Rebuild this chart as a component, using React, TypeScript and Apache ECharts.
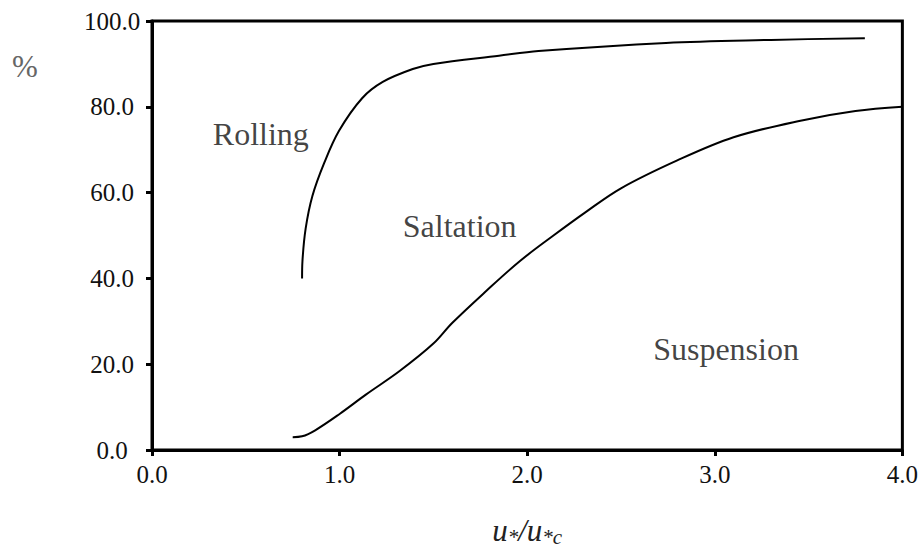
import React, { useEffect, useRef } from "react";
import * as echarts from "echarts";

const upperCurve: [number, number][] = [
  [0.8, 40], [0.802, 44], [0.819, 51.6], [0.855, 59.2], [0.917, 66.8], [0.997, 74.4],
  [1.12, 82], [1.23, 85.8], [1.39, 88.8], [1.5, 90], [1.85, 91.9], [2.06, 93],
  [2.74, 94.9], [3.3, 95.6], [3.8, 96],
];
const lowerCurve: [number, number][] = [
  [0.75, 3], [0.8, 3.2], [0.87, 4.6], [1.0, 8.4], [1.14, 12.9], [1.32, 18.4],
  [1.5, 24.8], [1.6, 29.6], [1.78, 37], [1.96, 44], [2.14, 50], [2.31, 55.4],
  [2.5, 61], [2.8, 67.5], [3.1, 72.9], [3.45, 76.7], [3.75, 79], [4.0, 80],
];
const regionLabels: { name: string; value: [number, number] }[] = [
  { name: "Rolling", value: [0.58, 73.6] },
  { name: "Saltation", value: [1.64, 52.2] },
  { name: "Suspension", value: [3.06, 23.5] },
];
const xMin = 0, xMax = 4, xStep = 1;
const yMin = 0, yMax = 100, yStep = 20;

const serif = "Liberation Serif";

export default function App() {
  const ref = useRef<HTMLDivElement>(null);
  useEffect(() => {
    if (!ref.current) return;
    const chart = echarts.init(ref.current, null, { renderer: "svg" });
    chart.setOption({
      animation: false,
      backgroundColor: "#fff",
      grid: {
        left: 152, right: 18, top: 21, bottom: 92,
        show: true, borderColor: "#000", borderWidth: 3, backgroundColor: "transparent",
      },
      xAxis: {
        type: "value", min: xMin, max: xMax, interval: xStep,
        axisLine: { show: true, lineStyle: { color: "#000", width: 3 } },
        axisTick: { show: true, inside: false, length: 6, lineStyle: { color: "#000", width: 3 } },
        splitLine: { show: false },
        axisLabel: {
          margin: 12, color: "#111", fontFamily: serif, fontSize: 25,
          formatter: (v: number) => v.toFixed(1),
        },
        name: "{u|u}{s|*}{u|/u}{s|*c}",
        nameLocation: "middle",
        nameGap: 64,
        nameTextStyle: {
          rich: {
            u: { fontFamily: serif, fontStyle: "italic", fontSize: 31, color: "#222" },
            s: { fontFamily: serif, fontStyle: "italic", fontSize: 21, color: "#222", verticalAlign: "bottom", padding: [12, 0, 0, 0] },
          },
        },
      },
      yAxis: {
        type: "value", min: yMin, max: yMax, interval: yStep,
        axisLine: { show: true, lineStyle: { color: "#000", width: 3 } },
        axisTick: { show: true, inside: false, length: 6, lineStyle: { color: "#000", width: 3 } },
        splitLine: { show: false },
        axisLabel: {
          margin: 40, align: "center", color: "#111", fontFamily: serif, fontSize: 25,
          formatter: (v: number) => v.toFixed(1),
        },
      },
      graphic: [
        {
          type: "text", left: 12, top: 51,
          style: { text: "%", fontFamily: serif, fontSize: 31, fill: "#666" },
        },
      ],
      series: [
        {
          type: "line", data: upperCurve, smooth: 0.35, symbol: "none",
          lineStyle: { color: "#000", width: 2 },
        },
        {
          type: "line", data: lowerCurve, smooth: 0.35, symbol: "none",
          lineStyle: { color: "#000", width: 2 },
        },
        {
          type: "scatter", data: regionLabels, symbolSize: 0,
          label: {
            show: true, position: "inside", formatter: (p: any) => p.name,
            fontFamily: serif, fontSize: 32, color: "#111",
          },
        },
      ],
    });
    return () => chart.dispose();
  }, []);
  return <div ref={ref} style={{ position: "fixed", left: 0, top: 0, width: 921, height: 552 }} />;
}
